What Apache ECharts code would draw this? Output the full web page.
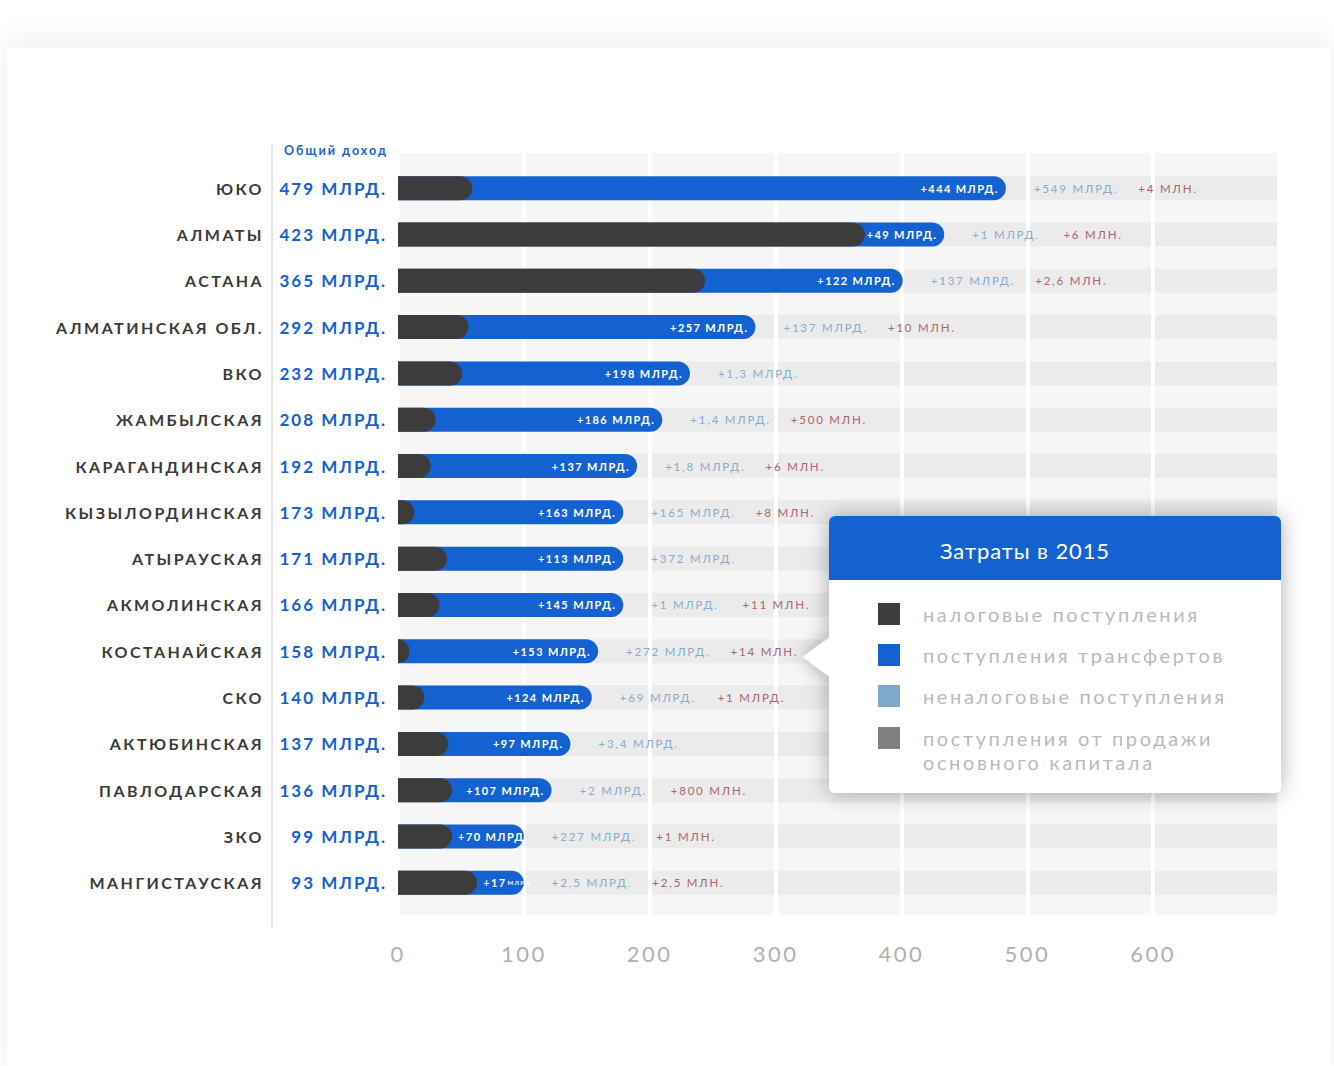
<!DOCTYPE html>
<html><head><meta charset="utf-8">
<script src="https://cdn.jsdelivr.net/npm/echarts@6/dist/echarts.min.js"></script>
<style>
html,body{margin:0;padding:0;background:#ffffff;}
#card{position:absolute;left:7px;top:48px;width:1324px;height:1030px;background:#fff;box-shadow:0 -8px 30px rgba(0,0,0,0.07);}
#chart{position:absolute;left:0;top:0;width:1334px;height:1066px;}
#chart text[fill="#3b3b3b"]{letter-spacing:2.45px;}
#chart text[fill="#1462d2"]{letter-spacing:2px;}
#chart text[fill="#ffffff"]{letter-spacing:1.4px;}
#chart text[fill="#fffffe"]{letter-spacing:0.9px;}
#chart text[fill="#88abce"]{letter-spacing:1.8px;}
#chart text[fill="#a9646f"]{letter-spacing:1.8px;}
#chart text[fill="#b0b0b0"]{letter-spacing:2.5px;}
#chart text[fill="#b9b9b9"]{letter-spacing:2.6px;}
</style></head>
<body>
<div id="card"></div>
<div id="chart"></div>
<script>
// ---- data ----
const regions = ['ЮКО','АЛМАТЫ','АСТАНА','АЛМАТИНСКАЯ ОБЛ.','ВКО','ЖАМБЫЛСКАЯ','КАРАГАНДИНСКАЯ','КЫЗЫЛОРДИНСКАЯ','АТЫРАУСКАЯ','АКМОЛИНСКАЯ','КОСТАНАЙСКАЯ','СКО','АКТЮБИНСКАЯ','ПАВЛОДАРСКАЯ','ЗКО','МАНГИСТАУСКАЯ'];
const totals = [479,423,365,292,232,208,192,173,171,166,158,140,137,136,99,93];
// dark segment (tax revenue) length as drawn, in axis units
const taxBar = [59,371,244,56,51,30,26,13,39,33,9,21,40,43,43,63];
// end of the blue segment (tax + transfers) as drawn, in axis units
const barEnd = [483,434,401,284,232,210,190,179,179,179,159,154,137,122,100,100];
// transfers, млрд
const transfers = [444,49,122,257,198,186,137,163,113,145,153,124,97,107,70,17];
const nonTax = ['+549 МЛРД.','+1 МЛРД.','+137 МЛРД.','+137 МЛРД.','+1,3 МЛРД.','+1,4 МЛРД.','+1,8 МЛРД.','+165 МЛРД.','+372 МЛРД.','+1 МЛРД.','+272 МЛРД.','+69 МЛРД.','+3,4 МЛРД.','+2 МЛРД.','+227 МЛРД.','+2,5 МЛРД.'];
const capital = ['+4 МЛН.','+6 МЛН.','+2,6 МЛН.','+10 МЛН.','','+500 МЛН.','+6 МЛН.','+8 МЛН.','','+11 МЛН.','+14 МЛН.','+1 МЛРД.','','+800 МЛН.','+1 МЛН.','+2,5 МЛН.'];
const seriesNames = ['налоговые поступления','поступления трансфертов','неналоговые поступления','поступления от продажи основного капитала'];
const seriesColors = ['#3c3c3c','#1462d2','#7fa9cc','#808080'];
const xMin = 0, xMax = 700, xStep = 100;
const headerTitle = 'Общий доход';
const boxTitle = 'Затраты в 2015';

const chart = echarts.init(document.getElementById('chart'), null, {renderer:'svg'});
const FONT = 'Lato';
const seg = i => barEnd[i] - taxBar[i];
const shortSeg = i => seg(i) < 60;
const compactSeg = i => seg(i) < 45;
const transferText = i => compactSeg(i)
  ? '{a|+' + transfers[i] + '}{s|МЛРД}'
  : '+' + transfers[i] + ' МЛРД.';
const whiteRich = {a:{color:'#ffffff', fontSize: 11, fontWeight:'bold', fontFamily: FONT},
                   s:{color:'#ffffff', fontSize: 6, fontFamily: FONT, padding:[0,0,0,5]}};
const legendBase = {
  orient: 'vertical', left: 878, itemWidth: 22, itemHeight: 22, itemGap: 17, padding: 0,
  icon: 'rect', selectedMode: false, z: 30
};
const option = {
  backgroundColor: 'transparent',
  animation: false,
  title: {text: headerTitle, left: 284, top: 144, padding: 0,
    textStyle: {color:'#1462d2', fontSize: 12.5, fontWeight:'bold', fontFamily: FONT}},
  grid: [
    {left: 398, right: 55, top: 153, bottom: 151, show: true, backgroundColor: '#f6f6f6', borderWidth: 0},
    {left: 398, right: 55, top: 165, bottom: 160}
  ],
  xAxis: [
    {gridIndex: 0, type: 'value', min: xMin, max: xMax, interval: xStep, z: 2,
     axisLine:{show:false}, axisTick:{show:false},
     splitLine:{show:true, lineStyle:{color:'#ffffff', width:4}},
     axisLabel:{showMaxLabel:false, margin: 27, fontSize: 22, color:'#b0b0b0', fontFamily: FONT}},
    {gridIndex: 1, type: 'value', min: xMin, max: xMax, show: false}
  ],
  yAxis: [
    {gridIndex: 0, type: 'value', show: false},
    {gridIndex: 1, type: 'category', data: regions, inverse: true, position: 'left',
     axisLine:{show:false}, axisTick:{show:false}, splitLine:{show:false},
     axisLabel:{margin: 134, fontSize: 16, fontWeight: 'bold', color:'#3b3b3b', fontFamily: FONT}},
    {gridIndex: 1, type: 'category', data: totals.map(v => v + ' МЛРД.'), inverse: true, position: 'left', offset: 0,
     axisLine:{show:false}, axisTick:{show:false}, splitLine:{show:false},
     axisLabel:{margin: 11, fontSize: 17, fontWeight: 'bold', color:'#1462d2', fontFamily: FONT}}
  ],
  legend: [
    Object.assign({}, legendBase, {
      top: 602,
      textStyle: {color:'#b9b9b9', fontSize: 20, fontFamily: FONT, padding:[0,0,0,18], lineHeight: 24},
      data: seriesNames.slice(0,3).map((n,i) => ({name: n, itemStyle:{color: seriesColors[i], opacity: 1}}))
    }),
    Object.assign({}, legendBase, {
      top: 702,
      textStyle: {color:'#b9b9b9', fontSize: 20, fontFamily: FONT, padding:[24,0,0,18], lineHeight: 24,
        rich: {r:{color:'#b9b9b9', fontSize: 20, fontFamily: FONT, lineHeight: 24}}},
      formatter: () => '{r|поступления от продажи}\n{r|основного капитала}',
      data: [{name: seriesNames[3], itemStyle:{color: seriesColors[3], opacity: 1}}]
    })
  ],
  series: [
    {name: 'track', type: 'bar', xAxisIndex: 1, yAxisIndex: 1, data: barEnd, barWidth: 24, z: 1, silent: true,
     itemStyle:{color:'rgba(0,0,0,0)'}, showBackground: true, backgroundStyle:{color:'#ebebeb'}},
    {name: seriesNames[1], type: 'bar', xAxisIndex: 1, yAxisIndex: 1, data: barEnd, barWidth: 24, barGap: '-100%', z: 3,
     itemStyle:{color: seriesColors[1], borderRadius:[0,12,12,0]},
     label:{show:true, position:'insideRight', distance: 7, color:'#ffffff', fontSize: 11, fontWeight:'bold', fontFamily: FONT,
       formatter: p => shortSeg(p.dataIndex) ? '' : transferText(p.dataIndex), rich: whiteRich}},
    {name: seriesNames[0], type: 'bar', xAxisIndex: 1, yAxisIndex: 1, data: taxBar, barWidth: 24, barGap: '-100%', z: 4,
     itemStyle:{color: seriesColors[0], borderRadius:[0,12,12,0]},
     label:{show:true, position:'right', distance: 6, color:'#ffffff', fontSize: 11, fontWeight:'bold', fontFamily: FONT,
       formatter: p => shortSeg(p.dataIndex) ? transferText(p.dataIndex) : '', rich: whiteRich}},
    {name: seriesNames[2], type: 'bar', xAxisIndex: 1, yAxisIndex: 1, data: barEnd, barWidth: 24, barGap: '-100%', z: 5,
     itemStyle:{color: 'rgba(0,0,0,0)'},
     label:{show:true, position:'right', distance: 28, fontFamily: FONT,
       formatter: p => '{n|' + nonTax[p.dataIndex] + '}' + (capital[p.dataIndex] ? '{c|' + capital[p.dataIndex] + '}' : ''),
       rich:{n:{color:'#88abce', fontSize: 11.5, fontFamily: FONT},
             c:{color:'#a9646f', fontSize: 11.5, fontFamily: FONT, padding:[0,0,0,38]}}}},
    {name: seriesNames[3], type: 'bar', xAxisIndex: 1, yAxisIndex: 1, data: [], barWidth: 24, barGap: '-100%',
     itemStyle:{color: seriesColors[3]}}
  ],
  graphic: [
    {type:'line', shape:{x1:272, y1:145, x2:272, y2:928}, style:{stroke:'#e3e3e3', lineWidth:2}, z: 5, silent: true},
    {type:'polygon', shape:{points:[[830,636],[803,657],[830,678]]}, z: 20,
     style:{fill:'#ffffff', shadowBlur: 18, shadowColor:'rgba(0,0,0,0.3)'}},
    {type:'rect', shape:{x:829, y:516, width:452, height:277, r:6}, z: 20,
     style:{fill:'#ffffff', shadowBlur: 22, shadowColor:'rgba(0,0,0,0.32)'}},
    {type:'polygon', shape:{points:[[832,636],[803,657],[832,678]]}, z: 21, style:{fill:'#ffffff'}},
    {type:'rect', shape:{x:829, y:516, width:452, height:64, r:[6,6,0,0]}, z: 22, style:{fill:'#1462d2'}},
    {type:'text', x: 1025, y: 550, z: 23,
     style:{text: boxTitle, fill:'#fffffe', fontSize: 22, fontFamily: FONT, align:'center', verticalAlign:'middle'}}
  ]
};
chart.setOption(option);
</script>
</body></html>
